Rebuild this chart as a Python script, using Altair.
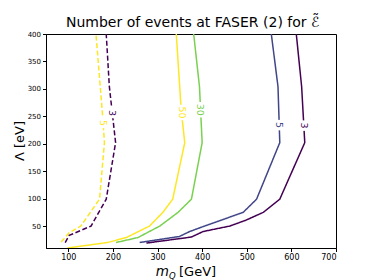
import altair as alt
import pandas as pd

x_ticks = [100, 200, 300, 400, 500, 600, 700]
y_ticks = [50, 100, 150, 200, 250, 300, 350, 400]

# contour lines: (m_Q [GeV], Lambda [eV])
dash5_x = [84, 102, 128, 170, 181, 177, 162]
dash5_y = [21, 38, 50, 99, 202, 250, 400]
dash3_x = [93, 102, 151, 185, 206, 192, 185]
dash3_y = [20, 33, 50, 99, 202, 304, 400]
sol50_x = [98, 188, 230, 282, 312, 334, 361, 353, 342]
sol50_y = [10, 20, 29, 50, 75, 99, 202, 262, 400]
sol30_x = [207, 256, 305, 346, 376, 400, 394, 381]
sol30_y = [20, 29, 50, 75, 99, 202, 304, 400]
sol5_x = [260, 349, 372, 402, 492, 522, 574, 570, 555]
sol5_y = [20, 31, 40, 49, 75, 99, 202, 304, 400]
sol3_x = [275, 376, 402, 462, 499, 537, 574, 630, 623, 611]
sol3_y = [19, 30, 40, 50, 61, 75, 99, 202, 304, 400]

series_names = ["dash5", "dash3", "sol50", "sol30", "sol5", "sol3"]
series_style = ["dashed", "dashed", "solid", "solid", "solid", "solid"]
series_colors = ["#fde725", "#440154", "#fde725", "#7ad151", "#404688", "#440154"]

label_text = ["5", "3", "50", "30", "5", "3"]
label_x = [178, 199, 355, 395, 573, 628]
label_y = [238, 256, 257, 262, 234, 233]

xs = [dash5_x, dash3_x, sol50_x, sol30_x, sol5_x, sol3_x]
ys = [dash5_y, dash3_y, sol50_y, sol30_y, sol5_y, sol3_y]
rows = []
for name, style, sx, sy in zip(series_names, series_style, xs, ys):
    for i, (a, b) in enumerate(zip(sx, sy)):
        rows.append({"series": name, "style": style, "x": a, "y": b, "order": i})
df = pd.DataFrame(rows)

lab = pd.DataFrame({
    "series": series_names, "text": label_text, "x": label_x, "y": label_y,
})
lab["bg"] = [110 if len(t) == 1 else 240 for t in label_text]

FONT = "DejaVu Sans"
W, H = 290, 214

xs_ = alt.Scale(domain=[50, 700], nice=False, zero=False)
ys_ = alt.Scale(domain=[10, 400], nice=False, zero=False)
col = alt.Scale(domain=series_names, range=series_colors)

x_axis = alt.Axis(values=x_ticks, title=None, grid=False,
                  tickColor="black", domainColor="black", labelFontSize=8, labelFont=FONT,
                  labelColor="black", tickSize=3.5, labelPadding=2, labelOverlap=False)
y_axis = alt.Axis(values=y_ticks, title=None, grid=False,
                  tickColor="black", domainColor="black", labelFontSize=7, labelFont=FONT,
                  labelColor="black", tickSize=3.5, labelPadding=2, labelOverlap=False,
                  labelFlush=False)

lines = alt.Chart(df).mark_line(strokeWidth=1.5, clip=True).encode(
    x=alt.X("x:Q", scale=xs_, axis=x_axis),
    y=alt.Y("y:Q", scale=ys_, axis=y_axis),
    color=alt.Color("series:N", scale=col, legend=None),
    strokeDash=alt.StrokeDash("style:N", scale=alt.Scale(domain=["solid", "dashed"],
                              range=[[1, 0], [5, 2.5]]), legend=None),
    detail="series:N",
    order="order:Q",
)

bg = alt.Chart(lab).mark_point(
    filled=True, color="white", opacity=1, strokeWidth=0,
    shape="M-0.45,-1L0.45,-1L0.45,1L-0.45,1Z",
).encode(
    x=alt.X("x:Q", scale=xs_, axis=x_axis),
    y=alt.Y("y:Q", scale=ys_, axis=y_axis),
    size=alt.Size("bg:Q", scale=None, legend=None),
)

texts = alt.Chart(lab).mark_text(angle=90, fontSize=9.5, font=FONT, baseline="middle",
                                 align="center").encode(
    x=alt.X("x:Q", scale=xs_, axis=x_axis),
    y=alt.Y("y:Q", scale=ys_, axis=y_axis),
    text="text:N",
    color=alt.Color("series:N", scale=col, legend=None),
)

title_df = pd.DataFrame({"t": ["Number of events at FASER (2) for \u2130\u0303"]})
title = alt.Chart(title_df).mark_text(fontSize=14, font=FONT, align="left",
                                      baseline="alphabetic", color="black").encode(
    x=alt.value(20), y=alt.value(-7), text="t:N")

xt_m = alt.Chart(pd.DataFrame({"t": ["m"]})).mark_text(
    fontSize=13.5, font=FONT, fontStyle="italic", align="right", baseline="alphabetic",
    color="black").encode(x=alt.value(123), y=alt.value(H + 28), text="t:N")
xt_q = alt.Chart(pd.DataFrame({"t": ["Q"]})).mark_text(
    fontSize=8.5, font=FONT, fontStyle="italic", align="left", baseline="alphabetic",
    color="black").encode(x=alt.value(123), y=alt.value(H + 31), text="t:N")
xt_g = alt.Chart(pd.DataFrame({"t": ["[GeV]"]})).mark_text(
    fontSize=13, font=FONT, align="left", baseline="alphabetic",
    color="black").encode(x=alt.value(133), y=alt.value(H + 28), text="t:N")
yt = alt.Chart(pd.DataFrame({"t": ["\u039b [eV]"]})).mark_text(
    fontSize=13, font=FONT, angle=270, align="center", baseline="alphabetic",
    color="black").encode(x=alt.value(-22), y=alt.value(107), text="t:N")

chart = alt.layer(lines, bg, texts, title, xt_m, xt_q, xt_g, yt).properties(
    width=W, height=H,
    autosize=alt.AutoSizeParams(type="none"),
    padding={"left": 38, "top": 26, "right": 20, "bottom": 36},
).configure(background="white").configure_view(
    stroke="black", strokeWidth=1
).configure_axis(labelOverlap=False)

chart.save("out.html", embed_options={"renderer": "svg", "actions": False})
